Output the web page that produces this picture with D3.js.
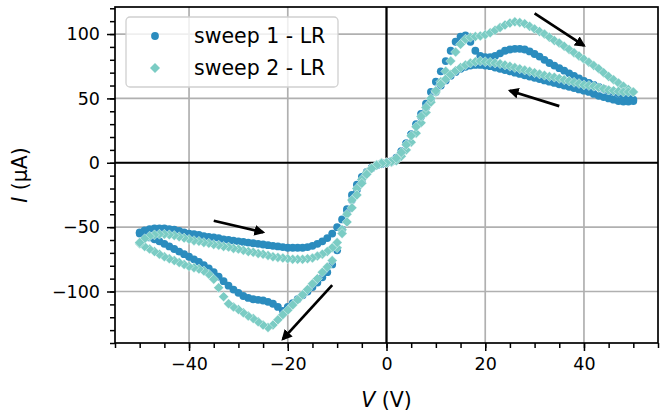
<!DOCTYPE html>
<html>
<head>
<meta charset="utf-8">
<script src="https://cdn.jsdelivr.net/npm/d3@7"></script>
<style>
  body { margin: 0; background: #fff; }
  svg { display: block; font-family: "DejaVu Sans", sans-serif; }
</style>
</head>
<body>
<svg id="chart" width="670" height="412"></svg>
<script>
// voltage steps of the sweep (V); current arrays below are indexed by |V|
const voltsPos = [0,1,2,3,4,5,6,7,8,9,10,11,12,13,14,15,16,17,18,19,20,21,22,23,24,25,
  26,27,28,29,30,31,32,33,34,35,36,37,38,39,40,41,42,43,44,45,46,47,48,49,50];
const voltsNeg = [0,-1,-2,-3,-4,-5,-6,-7,-8,-9,-10,-11,-12,-13,-14,-15,-16,-17,-18,-19,-20,
  -21,-22,-23,-24,-25,-26,-27,-28,-29,-30,-31,-32,-33,-34,-35,-36,-37,-38,-39,-40,
  -41,-42,-43,-44,-45,-46,-47,-48,-49,-50];

// sweep 1 - LR, current in uA
const s1PosOut  = [0,1,3,8,15,22,30,38,46,55, 63,71,79,87,94,98,99,94,87,83,
  82,82,83,85,87,88,88.5,88.5,88,86.5, 84.5,82.5,80,77.5,75.5,73.5,71.5,69.5,67.5,65.5,
  63.5,62,60.5,59,57.5,56,55,54,52.5,51, 49];
const s1PosBack = [0,1,4,9,15,22,29,36,43,49, 55,60,64,67.5,70.5,73,74.5,75.5,76,76,
  75.5,75,74,73,72,71,70,69,68,67, 66,65,64,63,62,61,60,59,58,57,
  56,55,53.5,52,51,50,49,48,47.5,47.5, 48];
const s1NegOut  = [0,-0.5,-2,-4,-7,-11,-17,-25,-36,-52, -68,-79,-85,-89,-93,-96.5,-100,-103,-106,-109,
  -112,-115,-112,-109.5,-108,-107,-106.5,-106,-105,-103.5, -101,-98.5,-95.5,-92,-88.5,-85,-82,-79.5,-77,-75,
  -73,-71,-69,-67,-65,-63,-61,-59.5,-58,-56.5, -55];
const s1NegBack = [0,-1,-2,-4,-8,-14,-21,-29,-37,-44, -50,-55,-58.5,-61,-63,-64.5,-65.5,-66,-66,-66,
  -66,-65.5,-65,-64.5,-64,-63.5,-63,-62.5,-62,-61.5, -61,-60.5,-60,-59.5,-58.5,-58,-57.5,-57,-56,-55.5,
  -55,-54,-53,-52,-51.5,-51,-51,-51,-51.5,-52.5, -54];

// sweep 2 - LR, current in uA
const s2PosOut  = [0,0.5,1.5,5,10,16,23,31,39,47, 55,63,71,79,86,92,96,97.5,98,98.5,
  99.5,101,103,105,107,108.5,109.5,109,108,106, 104,102,100,97.5,95,93,90.5,88,85.5,83,
  80.5,78,75.5,73,70,67,64.5,62,59.5,57, 55];
const s2PosBack = [0,1,3.5,8,14,21,28,36,43,50, 56,61,65,68.5,71.5,74,76,77.5,78.5,79,
  78.5,78,77.5,77,76,75,74,73,72,71, 70,69,68,67,66.5,65.5,64.5,63.5,62.5,61.5,
  60.5,60,59.5,58.5,57.5,56.5,56,55.5,55,55, 55];
const s2NegOut  = [0,0,-1.5,-4,-7.5,-13,-20,-29,-40,-52, -66,-76,-81,-85,-90,-94,-98.5,-102.5,-106.5,-110.5,
  -114.5,-118,-122,-126,-128,-126,-123.5,-121,-119,-116.5, -114,-112,-109.5,-104,-97,-90.5,-86.5,-84,-82.5,-81.5,
  -80.5,-79,-77.5,-76,-74.5,-73,-71,-69,-67,-65, -63];
const s2NegBack = [0,-0.5,-2,-4.5,-9,-16,-25,-35,-46,-55, -62,-66,-69,-71,-72.5,-74,-74.5,-75,-75,-75,
  -74.5,-74,-73.5,-73,-72,-71,-70.5,-69.5,-69,-68, -67,-66.5,-65.5,-65,-64,-63.5,-62.5,-62,-61,-60.5,
  -59.5,-58.5,-57.5,-56.5,-56,-55.5,-55.5,-56,-57,-59, -62];

const seriesNames = ["sweep 1 - LR", "sweep 2 - LR"];
const xTicks = [-40, -20, 0, 20, 40];
const yTicks = [-100, -50, 0, 50, 100];
// direction arrows [V0, I0, V1, I1] (tail -> head)
const arrows = [[30, 116, 40, 91], [35, 44, 25, 56], [-35, -45, -25, -54], [-11, -95, -21, -137]];

const branch = (volts, amps) => volts.map((v, k) => ({v: v, a: amps[k]}));
const sweep1 = [].concat(branch(voltsPos, s1PosOut), branch(voltsPos, s1PosBack),
                         branch(voltsNeg, s1NegOut), branch(voltsNeg, s1NegBack));
const sweep2 = [].concat(branch(voltsPos, s2PosOut), branch(voltsPos, s2PosBack),
                         branch(voltsNeg, s2NegOut), branch(voltsNeg, s2NegBack));

const blue = "#2b8cbe", teal = "#7bccc4";
const pLeft = 115, pRight = 658, pTop = 7, pBottom = 343;
const dotR = 3.9, diaH = 5;

const svg = d3.select("#chart");
const x = d3.scaleLinear().domain([-55, 55]).range([pLeft, pRight]);
const y = d3.scaleLinear().domain([-140, 121]).range([pBottom, pTop]);

// grid
const grid = svg.append("g").attr("stroke", "#b0b0b0").attr("stroke-width", 1.7);
grid.selectAll(".gx").data(xTicks).enter().append("line")
  .attr("x1", d => x(d)).attr("x2", d => x(d)).attr("y1", pTop).attr("y2", pBottom);
grid.selectAll(".gy").data(yTicks).enter().append("line")
  .attr("x1", pLeft).attr("x2", pRight).attr("y1", d => y(d)).attr("y2", d => y(d));

// zero lines
svg.append("line").attr("x1", pLeft).attr("x2", pRight).attr("y1", y(0)).attr("y2", y(0))
  .attr("stroke", "#000").attr("stroke-width", 2.2);
svg.append("line").attr("x1", x(0)).attr("x2", x(0)).attr("y1", pTop).attr("y2", pBottom)
  .attr("stroke", "#000").attr("stroke-width", 2.2);

// data
const diamond = h => `M0,${-h}L${h},0L0,${h}L${-h},0Z`;
svg.append("g").selectAll("circle").data(sweep1).enter().append("circle")
  .attr("cx", d => x(d.v)).attr("cy", d => y(d.a)).attr("r", dotR).attr("fill", blue);
svg.append("g").selectAll("path").data(sweep2).enter().append("path")
  .attr("d", diamond(diaH))
  .attr("transform", d => `translate(${x(d.v)},${y(d.a)})`)
  .attr("fill", teal).attr("stroke", "#fff").attr("stroke-width", 0.4);

// axes
const xAxis = d3.axisBottom(x).tickValues(xTicks).tickSize(8).tickPadding(7).tickSizeOuter(0);
const yAxis = d3.axisLeft(y).tickValues(yTicks).tickSize(8).tickPadding(7).tickSizeOuter(0);
const xMinor = d3.axisBottom(x).tickValues(d3.range(-55, 56, 5)).tickSize(5).tickFormat("").tickSizeOuter(0);
const yMinor = d3.axisLeft(y).tickValues(d3.range(-140, 121, 10)).tickSize(5).tickFormat("").tickSizeOuter(0);

[[xMinor, `translate(0,${pBottom})`], [yMinor, `translate(${pLeft},0)`],
 [xAxis, `translate(0,${pBottom})`], [yAxis, `translate(${pLeft},0)`]].forEach(([ax, tr]) => {
  const g = svg.append("g").attr("transform", tr).call(ax);
  g.select(".domain").remove();
  g.selectAll(".tick line").attr("stroke", "#000").attr("stroke-width", 1.5);
  g.selectAll(".tick text").attr("fill", "#000").style("font-size", "17.5px")
    .style("font-family", "'DejaVu Sans', sans-serif");
});

// spines
svg.append("rect").attr("x", pLeft).attr("y", pTop).attr("width", pRight - pLeft).attr("height", pBottom - pTop)
  .attr("fill", "none").attr("stroke", "#000").attr("stroke-width", 1.7);

// axis labels
svg.append("text").attr("x", (pLeft + pRight) / 2).attr("y", 407).attr("text-anchor", "middle")
  .style("font-size", "20.5px")
  .html('<tspan font-style="italic">V</tspan> (V)');
svg.append("text").attr("transform", `translate(27,${(pTop + pBottom) / 2}) rotate(-90)`)
  .attr("text-anchor", "middle").style("font-size", "20.5px")
  .html('<tspan font-style="italic">I</tspan> (μA)');

// arrows
svg.append("defs").append("marker").attr("id", "head")
  .attr("viewBox", "0 0 10 10").attr("refX", 8).attr("refY", 5)
  .attr("markerWidth", 4).attr("markerHeight", 4).attr("orient", "auto")
  .append("path").attr("d", "M0,0L10,5L0,10Z").attr("fill", "#000");
svg.append("g").selectAll("line").data(arrows).enter().append("line")
  .attr("x1", d => x(d[0])).attr("y1", d => y(d[1]))
  .attr("x2", d => x(d[2])).attr("y2", d => y(d[3]))
  .attr("stroke", "#000").attr("stroke-width", 2.7).attr("marker-end", "url(#head)");

// legend
const legend = svg.append("g");
legend.append("rect").attr("x", 126).attr("y", 17).attr("width", 212).attr("height", 70).attr("rx", 4)
  .attr("fill", "#fff").attr("fill-opacity", 0.8).attr("stroke", "#d0d0d0").attr("stroke-width", 1.3);
legend.append("circle").attr("cx", 155).attr("cy", 36).attr("r", dotR).attr("fill", blue);
legend.append("path").attr("d", diamond(diaH)).attr("transform", "translate(155,68)").attr("fill", teal);
legend.selectAll("text").data(seriesNames).enter().append("text")
  .attr("x", 194).attr("y", (d, k) => 36 + 32 * k).attr("dy", "0.36em")
  .style("font-size", "20.5px").text(d => d);
</script>
</body>
</html>
